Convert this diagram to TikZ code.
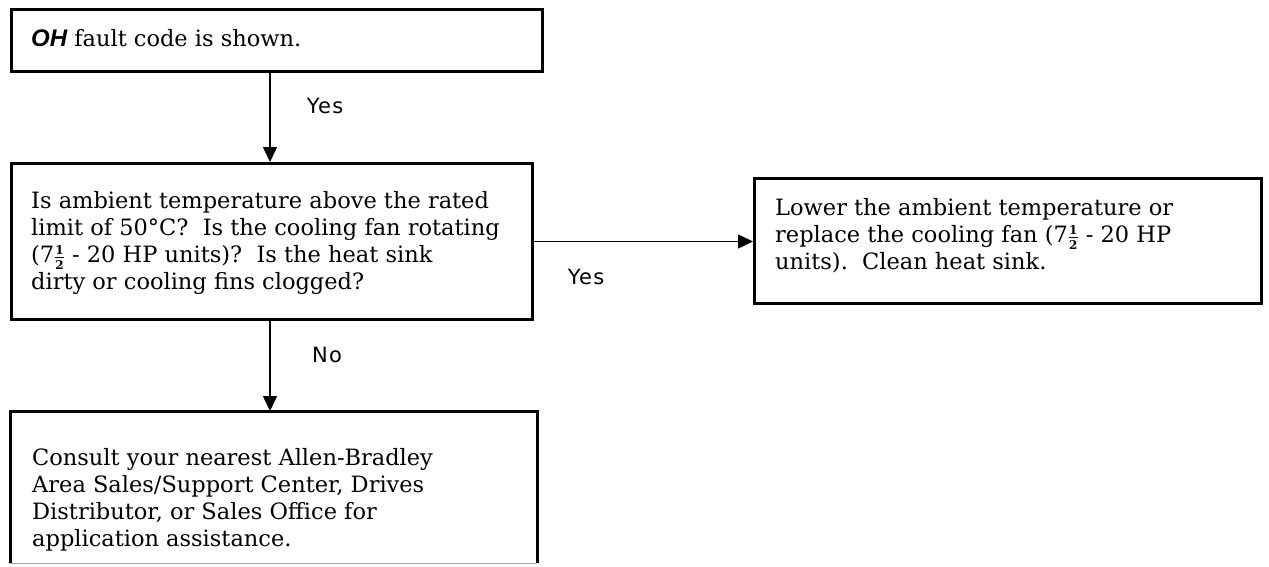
\documentclass[tikz,border=0pt]{standalone}
\usepackage{fontspec}
\setmainfont{DejaVu Serif}
\newfontfamily\lblfont[LetterSpace=6]{DejaVu Sans}
\newfontfamily\ohfont{Liberation Sans}
\usetikzlibrary{arrows.meta}
\newcommand{\hlf}{\smash{\ensuremath{\frac{\mbox{\fontsize{12}{12}\selectfont\bfseries 1}}{\mbox{\fontsize{12}{12}\selectfont\bfseries 2}}}}}
\tikzset{
  box/.style={draw=black, line width=3pt, rectangle, inner sep=0pt, anchor=north west},
  bodytxt/.style={anchor=west, align=left, inner sep=0pt, font=\fontsize{22.5}{27}\selectfont},
  lbl/.style={inner sep=0pt, font=\lblfont\fontsize{21}{24}\selectfont},
  arr/.style={line width=1.5pt, -{Triangle[length=15pt,width=14pt]}}
}
\begin{document}
\begin{tikzpicture}[x=1pt,y=-1pt]
\useasboundingbox (0,0) rectangle (1269,566);
% boxes
\node[box, minimum width=531pt, minimum height=62pt] (b1) at (10,8) {};
\node[box, minimum width=521pt, minimum height=156pt] (b2) at (10,162) {};
\node[box, minimum width=507pt, minimum height=125pt] (b3) at (753,177) {};
\node[rectangle, inner sep=0pt, anchor=north west, minimum width=527pt, minimum height=152pt] (b4) at (10,411) {};
\draw[line width=3pt] (b4.south west) -- (b4.north west) -- (b4.north east) -- (b4.south east);
\draw[line width=1pt, black!35] (b4.south west) -- (b4.south east);
% texts
\node[bodytxt] (t1) at (31,38) {{\ohfont\fontsize{24}{27}\selectfont\bfseries\itshape OH} fault code is shown.};
\node[bodytxt] (t2) at (31,243) {Is ambient temperature above the rated\\limit of 50°C?\ \ Is the cooling fan rotating\\(7\hlf\ - 20 HP units)?\ \ Is the heat sink\\dirty or cooling fins clogged?};
\node[bodytxt] (t3) at (775,236) {Lower the ambient temperature or\\replace the cooling fan (7\hlf\ - 20 HP\\units).\ \ Clean heat sink.};
\node[bodytxt] (t4) at (32,500) {Consult your nearest Allen-Bradley\\Area Sales/Support Center, Drives\\Distributor, or Sales Office for\\application assistance.};
% connectors
\coordinate (ax) at (270,0);
\draw[arr] (ax |- b1.south) -- (ax |- b2.north);
\draw[arr] (b2.east) -- (b3.west |- b2.east);
\draw[arr] (ax |- b2.south) -- (ax |- b4.north);
% labels
\node[lbl] (y1) at (325,106) {Yes};
\node[lbl] (y2) at (586,277) {Yes};
\node[lbl] (n1) at (327,355) {No};
\end{tikzpicture}
\end{document}
